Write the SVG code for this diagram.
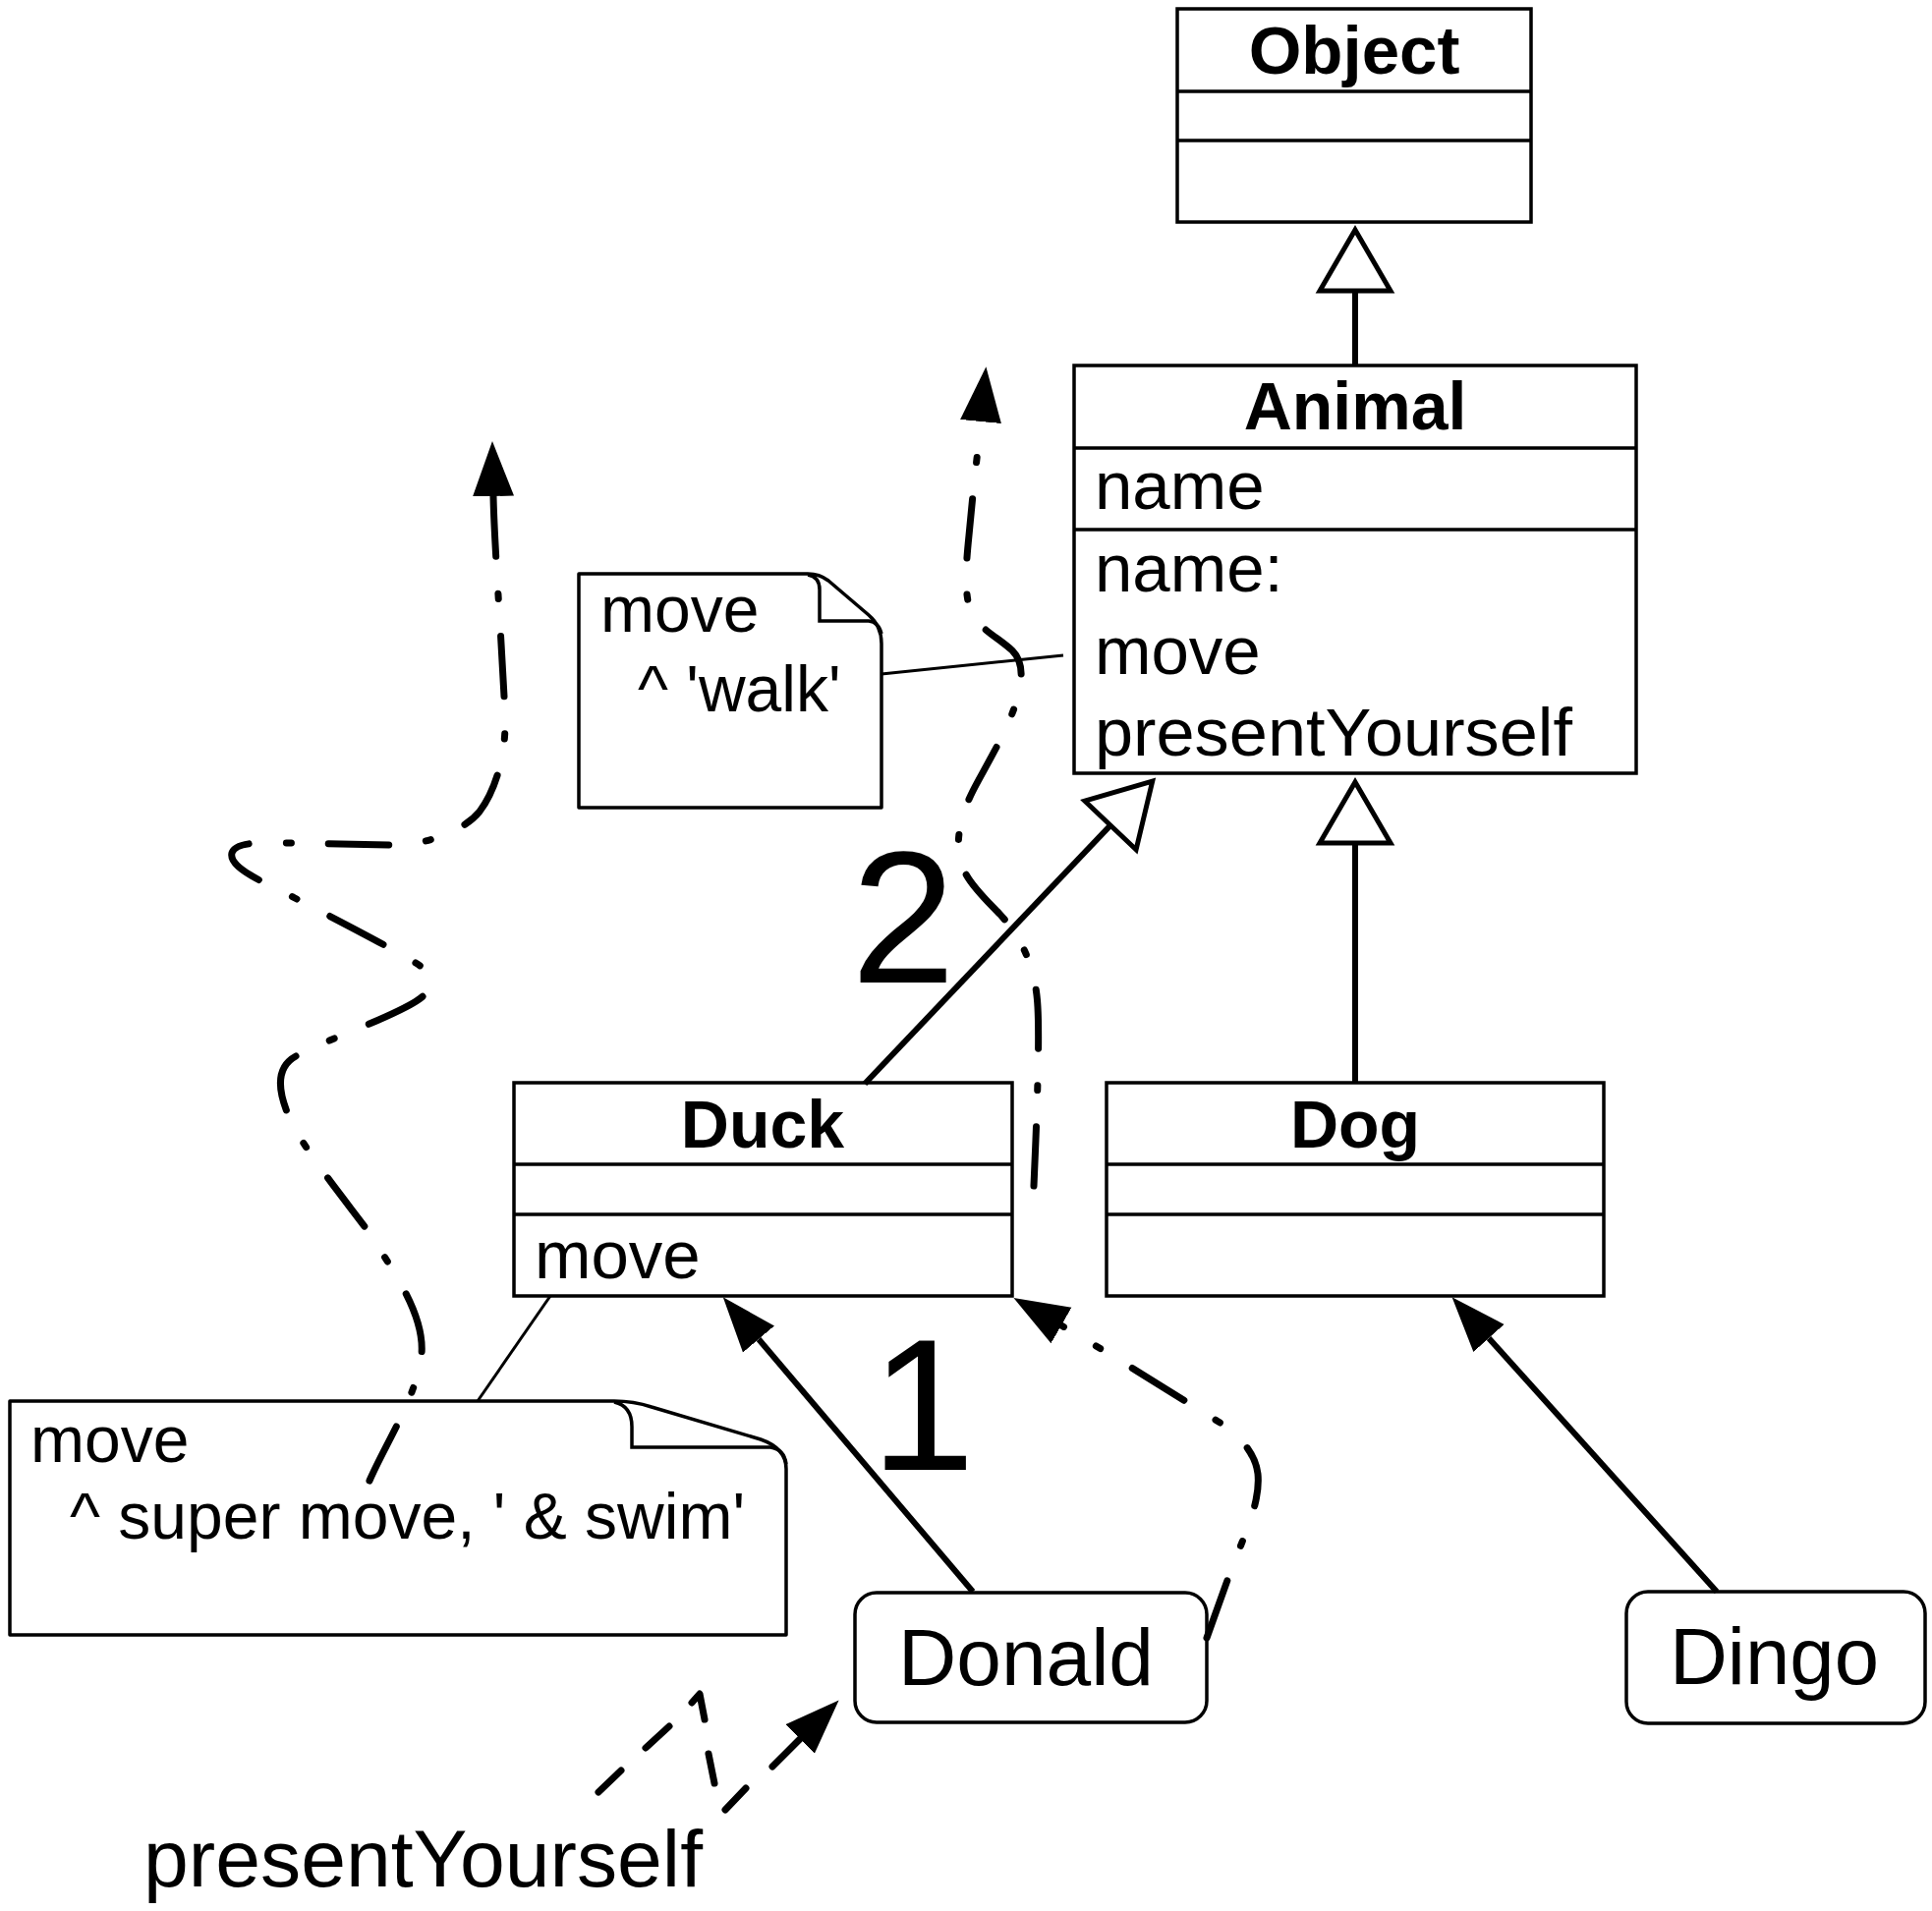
<svg xmlns="http://www.w3.org/2000/svg" width="1966" height="1945" viewBox="0 0 1966 1945">
  <style>
    .box { fill: #fff; stroke: #000; stroke-width: 3.5; }
    .sep { stroke: #000; stroke-width: 3.5; }
    .inst-box { fill: #fff; stroke: #000; stroke-width: 3.5; }
    .t { font-family: "Liberation Sans", Arial, Helvetica, sans-serif; fill: #000; }
    .title { font-weight: bold; font-size: 68px; text-anchor: middle; }
    .member { font-size: 69px; }
    .note-t { font-size: 66px; }
    .obj { font-size: 82px; }
    .num { font-size: 191px; }
    .note { fill: #fff; stroke: #000; stroke-width: 3.5; stroke-linejoin: round; }
    .fold { fill: none; stroke: #000; stroke-width: 3.5; }
    .anchor { stroke: #000; stroke-width: 3; fill: none; }
    .gen { stroke: #000; stroke-width: 6; fill: none; marker-end: url(#hollow); }
    .inst { stroke: #000; stroke-width: 6; fill: none; marker-end: url(#solid); }
    .flow { stroke: #000; stroke-width: 7; fill: none; stroke-linecap: round; stroke-linejoin: round; stroke-dasharray: 60 37 5 37; marker-end: url(#solid); }
    .msg { stroke: #000; stroke-width: 7; fill: none; stroke-linecap: round; stroke-linejoin: round; marker-end: url(#solid); }
  </style>
  <defs>
    <!-- filled arrowhead; path ends at the arrowhead base -->
    <marker id="solid" markerUnits="userSpaceOnUse" viewBox="0 -22 56 44" markerWidth="56" markerHeight="44" refX="0" refY="0" orient="auto">
      <path d="M0,-21 L56,0 L0,21 Z" fill="#000"/>
    </marker>
    <!-- hollow generalization triangle -->
    <marker id="hollow" markerUnits="userSpaceOnUse" viewBox="-6 -44 76 88" markerWidth="76" markerHeight="88" refX="0" refY="0" orient="auto">
      <path d="M0,-36 L62,0 L0,36 Z" fill="#fff" stroke="#000" stroke-width="5"/>
    </marker>
  </defs>

  <rect width="1966" height="1945" fill="#fff"/>

  <!-- notes -->
  <g id="note-walk">
    <path class="note" d="M589,584 H822 Q834,584 843,591 L884,626 Q897,637 897,655 V822 H589 Z"/>
    <path class="fold" d="M822,585 Q834,587 834,600 V632 H884 Q894,633 897,645"/>
    <text class="t note-t" x="611" y="643">move</text>
    <text class="t note-t" x="649" y="724">^ 'walk'</text>
  </g>
  <g id="note-swim">
    <path class="note" d="M10,1426 H625 Q645,1426 663,1432 L774,1465 Q800,1474 800,1495 V1664 H10 Z"/>
    <path class="fold" d="M625,1427 Q643,1431 643,1452 V1473 H784 Q798,1475 800,1490"/>
    <text class="t note-t" x="31" y="1488">move</text>
    <text class="t note-t" x="71" y="1566">^ super move, ' &amp; swim'</text>
  </g>

  <!-- classes -->
  <g id="class-object">
    <rect class="box" x="1198" y="9" width="360" height="217"/>
    <line class="sep" x1="1198" y1="93" x2="1558" y2="93"/>
    <line class="sep" x1="1198" y1="143" x2="1558" y2="143"/>
    <text class="t title" x="1378" y="75" style="font-size:69px">Object</text>
  </g>
  <g id="class-animal">
    <rect class="box" x="1093" y="372" width="572" height="415"/>
    <line class="sep" x1="1093" y1="456" x2="1665" y2="456"/>
    <line class="sep" x1="1093" y1="539" x2="1665" y2="539"/>
    <text class="t title" x="1379" y="437">Animal</text>
    <text class="t member" x="1114" y="518">name</text>
    <text class="t member" x="1114" y="602">name:</text>
    <text class="t member" x="1114" y="686">move</text>
    <text class="t member" x="1114" y="769" textLength="486" lengthAdjust="spacingAndGlyphs">presentYourself</text>
  </g>
  <g id="class-duck">
    <rect class="box" x="523" y="1102" width="507" height="217"/>
    <line class="sep" x1="523" y1="1185" x2="1030" y2="1185"/>
    <line class="sep" x1="523" y1="1236" x2="1030" y2="1236"/>
    <text class="t title" x="776" y="1168">Duck</text>
    <text class="t member" x="544" y="1301">move</text>
  </g>
  <g id="class-dog">
    <rect class="box" x="1126" y="1102" width="506" height="217"/>
    <line class="sep" x1="1126" y1="1185" x2="1632" y2="1185"/>
    <line class="sep" x1="1126" y1="1236" x2="1632" y2="1236"/>
    <text class="t title" x="1379" y="1168">Dog</text>
  </g>

  <!-- instances -->
  <g id="obj-donald">
    <rect class="inst-box" x="870" y="1621" width="358" height="132" rx="22"/>
    <text class="t obj" x="914" y="1715" textLength="260" lengthAdjust="spacingAndGlyphs">Donald</text>
  </g>
  <g id="obj-dingo">
    <rect class="inst-box" x="1655" y="1620" width="304" height="134" rx="22"/>
    <text class="t obj" x="1699" y="1714" textLength="213" lengthAdjust="spacingAndGlyphs">Dingo</text>
  </g>

  <!-- connectors -->
  <g id="connectors">
    <line class="anchor" x1="897" y1="686" x2="1082" y2="667"/>
    <line class="anchor" x1="560" y1="1319" x2="486" y2="1426"/>

    <line class="gen" x1="1379" y1="371" x2="1379" y2="296"/>
    <line class="gen" x1="1379" y1="1102" x2="1379" y2="858"/>
    <line class="gen" x1="880" y1="1103" x2="1130" y2="840"/>

    <line class="inst" x1="990" y1="1620" x2="772" y2="1363"/>
    <line class="inst" x1="1747" y1="1620" x2="1515" y2="1362"/>

    <!-- method lookup: Duck move, then super move up the chain -->
    <path class="flow" pathLength="1450" d="M376,1507 C392,1470 425,1420 429,1378 C432,1340 405,1300 373,1251 C350,1220 305,1165 293,1134 C283,1110 280,1085 303,1074 C318,1064 400,1035 425,1018 C445,1005 440,990 423,980 C400,966 360,945 300,914 C272,899 232,884 236,868 C240,855 275,858 300,858 L402,860 C430,860 470,848 488,826 C500,810 513,780 514,740 C514,700 503,560 502,505"/>
    <path class="flow" pathLength="420" d="M1228,1667 L1252,1600 C1265,1565 1283,1530 1280,1500 C1277,1475 1255,1455 1230,1441 C1190,1416 1120,1372 1080,1349"/>
    <path class="flow" pathLength="834" d="M1052,1207 C1055,1140 1058,1060 1056,1025 C1054,985 1040,955 1018,931 C1000,912 980,895 976,870 C973,848 980,825 990,805 C1000,785 1025,745 1035,712 C1042,688 1040,672 1030,662 C1015,648 995,640 987,620 C981,600 983,575 986,545 C990,500 995,460 998,429"/>

    <!-- incoming message, drawn dash by dash -->
    <path class="msg" d="M609,1824 L632,1802 M657,1779 L681,1757 M704,1733 L712,1724 L717,1750 M721,1785 L727,1815 M738,1842 L759,1820 M786,1798 L814,1770"/>
  </g>

  <!-- labels -->
  <g id="label-1"><text class="t num" x="886" y="1496">1</text></g>
  <g id="label-2"><text class="t num" x="866" y="1000">2</text></g>
  <g id="label-message"><text class="t obj" x="146" y="1920" textLength="569" lengthAdjust="spacingAndGlyphs">presentYourself</text></g>
</svg>
